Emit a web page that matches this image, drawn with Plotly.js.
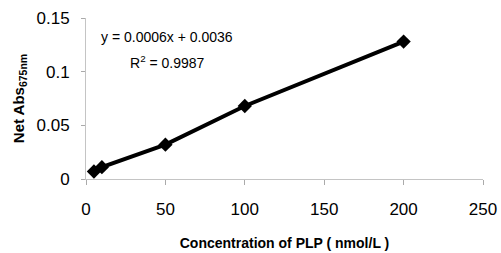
<!DOCTYPE html>
<html><head><meta charset="utf-8">
<script src="https://cdn.plot.ly/plotly-3.0.1.min.js"></script>
<style>html,body{margin:0;padding:0;background:#fff;}#chart{width:501px;height:253px;}</style>
</head><body><div id="chart"></div>
<script>
const concentration = [5, 10, 50, 100, 200];
const netAbs = [0.007, 0.011, 0.032, 0.068, 0.128];
const xTicks = [0, 50, 100, 150, 200, 250];
const yTicks = [0, 0.05, 0.1, 0.15];
const yTickLabels = ['0', '0.05', '0.1', '0.15'];
const equationText = 'y = 0.0006x + 0.0036';
const r2Text = 'R<sup>2</sup> = 0.9987';

const trace = {
  x: concentration, y: netAbs, type: 'scatter', mode: 'lines+markers',
  line: {color: '#000', width: 4},
  marker: {symbol: 'diamond', size: 11, color: '#000'},
  showlegend: false, cliponaxis: false
};
const layout = {
  width: 501, height: 253,
  margin: {l: 86, r: 18, t: 18, b: 74},
  paper_bgcolor: '#fff', plot_bgcolor: '#fff',
  font: {family: 'Liberation Sans, Arial, sans-serif', color: '#000'},
  xaxis: {
    range: [0, 250], tickvals: xTicks, showgrid: false, zeroline: false,
    showline: true, linecolor: '#c4c4c4', linewidth: 1,
    ticks: 'outside', tickcolor: '#aaa', ticklen: 5, ticklabelstandoff: 10,
    tickfont: {size: 17}, title: {text: '<b>Concentration of PLP ( nmol/L )</b>', font: {size: 14}, standoff: 19}
  },
  yaxis: {
    range: [0, 0.15], tickvals: yTicks, ticktext: yTickLabels, showgrid: false, zeroline: false,
    showline: true, linecolor: '#c4c4c4', linewidth: 1,
    ticks: 'outside', tickcolor: '#aaa', ticklen: 4, ticklabelstandoff: 8,
    tickfont: {size: 17}, title: {text: '<b>Net Abs<sub>675nm</sub></b>', font: {size: 15}, standoff: 8}
  },
  annotations: [
    {xref: 'paper', yref: 'paper', x: 0.205, y: 0.885, text: equationText, showarrow: false, font: {size: 14}, xanchor: 'center', yanchor: 'middle'},
    {xref: 'paper', yref: 'paper', x: 0.205, y: 0.725, text: r2Text, showarrow: false, font: {size: 14}, xanchor: 'center', yanchor: 'middle'}
  ]
};
Plotly.newPlot('chart', [trace], layout, {displayModeBar: false, staticPlot: true});
</script></body></html>
